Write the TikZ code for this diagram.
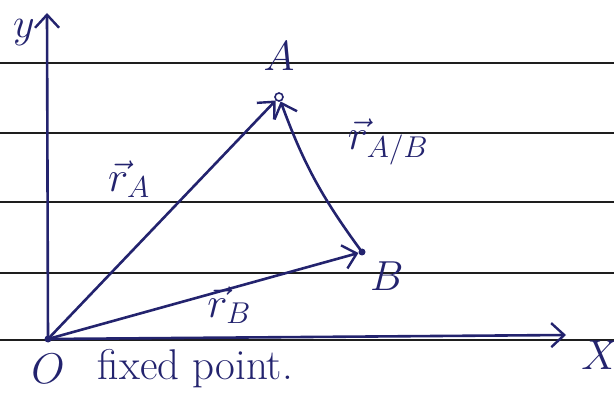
\RequirePackage{fix-cm}
\documentclass[tikz,border=0pt]{standalone}
\usepackage{amsmath,amssymb}
\usepackage{tikz}
\usetikzlibrary{arrows.meta,positioning}

\definecolor{ink}{RGB}{35,35,110}
\definecolor{rule}{RGB}{30,30,30}

\begin{document}
\begin{tikzpicture}[x=1pt, y=1pt,
    >={Straight Barb[length=13pt,width=24pt,line width=2.4pt]},
    vec/.style={->, ink, line width=2.6pt, line cap=round},
    paper/.style={rule, line width=2.8pt},
    dot/.style={circle, fill=ink, inner sep=0pt, minimum size=7pt},
    opendot/.style={circle, draw=ink, fill=white, line width=1.6pt, inner sep=0pt, minimum size=8pt},
    lbl/.style={text=ink, font=\fontsize{42}{48}\selectfont},
    vlbl/.style={text=ink, font=\fontsize{43}{50}\selectfont}]
  \useasboundingbox (0,0) rectangle (614,405);

  %--- ruled paper
  \foreach \yy in {342,272,203,132,65}
    \draw[paper] (0,\yy) -- (614,\yy);

  %--- points O, A, B and axis ends
  \node[dot] (O) at (48,66) {};
  \node[opendot] (A) at (279,308) {};
  \node[dot] (B) at (362,153) {};
  \coordinate (xend) at (566,70);
  \coordinate (yend) at (47,392);

  %--- axes
  \draw[vec] (O.center) -- (xend);
  \draw[vec] (O.center) -- (yend);

  %--- position vectors
  \draw[vec] (O.center) -- (A);
  \draw[vec] (O.center) -- (B);
  \draw[vec] (B) to[bend left=8] (A);

  %--- labels
  \node[lbl] (ylbl) at (24,372) {$y$};
  \node[lbl] (xlbl) at (600,50) {$X$};
  \node[lbl, above=18pt of A] (Albl) {$A$};
  \node[lbl, below right=4pt and 2pt of B] (Blbl) {$B$};
  \node[vlbl, below=8pt of O] (Olbl) {$O$};
  \node[vlbl, right=26pt of Olbl] (fixed) {fixed point.};
  \node[vlbl] (rA) at (129,226) {$\vec{r}_{A}$};
  \node[vlbl] (rB) at (229,100) {$\vec{r}_{B}$};
  \node[vlbl] (rAB) at (388,263) {$\vec{r}_{A/B}$};

\end{tikzpicture}
\end{document}
